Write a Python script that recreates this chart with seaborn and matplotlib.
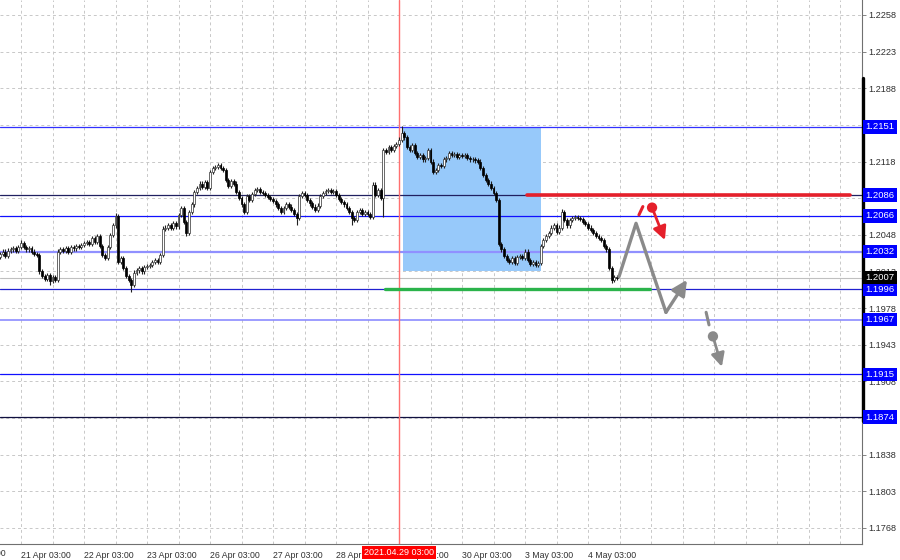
import numpy as np
import pandas as pd
import matplotlib
matplotlib.use("Agg")
import matplotlib.pyplot as plt
import matplotlib.transforms as mtransforms
from matplotlib.patches import Rectangle
import seaborn as sns

# EURUSD H1 closes, first bar 20 Apr 19:00
close = [
    1.2030, 1.2032, 1.2028, 1.2033, 1.2034, 1.2035, 1.2033, 1.2036,
    1.2040, 1.2036, 1.2034, 1.2035, 1.2032, 1.2030, 1.2029, 1.2013,
    1.2009, 1.2006, 1.2010, 1.2004, 1.2008, 1.2005, 1.2032, 1.2034,
    1.2033, 1.2035, 1.2032, 1.2036, 1.2035, 1.2037, 1.2036, 1.2038,
    1.2040, 1.2041, 1.2039, 1.2045, 1.2041, 1.2047, 1.2037, 1.2029,
    1.2026, 1.2036, 1.2048, 1.2057, 1.2066, 1.2022, 1.2026, 1.2016,
    1.2009, 1.2005, 1.2000, 1.2012, 1.2014, 1.2016, 1.2013, 1.2017,
    1.2018, 1.2019, 1.2022, 1.2024, 1.2022, 1.2029, 1.2054, 1.2055,
    1.2057, 1.2055, 1.2059, 1.2056, 1.2067, 1.2074, 1.2060, 1.2050,
    1.2070, 1.2077, 1.2089, 1.2093, 1.2097, 1.2094, 1.2098, 1.2093,
    1.2108, 1.2112, 1.2113, 1.2115, 1.2112, 1.2110, 1.2100, 1.2095,
    1.2099, 1.2097, 1.2089, 1.2083, 1.2077, 1.2070, 1.2085, 1.2081,
    1.2087, 1.2091, 1.2092, 1.2089, 1.2088, 1.2086, 1.2084, 1.2082,
    1.2080, 1.2077, 1.2074, 1.2070, 1.2074, 1.2077, 1.2075, 1.2072,
    1.2068, 1.2064, 1.2085, 1.2088, 1.2086, 1.2081, 1.2078, 1.2075,
    1.2072, 1.2076, 1.2085, 1.2088, 1.2090, 1.2091, 1.2089, 1.2090,
    1.2086, 1.2082, 1.2079, 1.2077, 1.2074, 1.2070, 1.2064, 1.2062,
    1.2070, 1.2072, 1.2068, 1.2070, 1.2068, 1.2065, 1.2096, 1.2086,
    1.2091, 1.2083, 1.2129, 1.2127, 1.2132, 1.2129, 1.2133, 1.2135,
    1.2139, 1.2145, 1.2141, 1.2132, 1.2129, 1.2134, 1.2126, 1.2122,
    1.2124, 1.2120, 1.2121, 1.2129, 1.2118, 1.2108, 1.2110, 1.2115,
    1.2114, 1.2120, 1.2121, 1.2126, 1.2124, 1.2125, 1.2122, 1.2124,
    1.2123, 1.2124, 1.2121, 1.2120, 1.2120, 1.2119, 1.2118, 1.2112,
    1.2105, 1.2100, 1.2097, 1.2093, 1.2088, 1.2081, 1.2039, 1.2034,
    1.2028, 1.2024, 1.2022, 1.2026, 1.2021, 1.2027, 1.2028, 1.2026,
    1.2032, 1.2024, 1.2020, 1.2022, 1.2019, 1.2021, 1.2037, 1.2043,
    1.2047, 1.2050, 1.2055, 1.2057, 1.2051, 1.2055, 1.2070, 1.2062,
    1.2057, 1.2062, 1.2064, 1.2065, 1.2064, 1.2063, 1.2060, 1.2058,
    1.2055, 1.2053, 1.2050, 1.2047, 1.2045, 1.2043, 1.2037, 1.2034,
    1.2016, 1.2005, 1.2008, 1.2007]
first_open = 1.2027

# long wicks
wick_hi = {8: 1.2043, 44: 1.2069, 153: 1.2152, 214: 1.2073}
wick_lo = {19: 1.2000, 50: 1.1993, 71: 1.2047, 113: 1.2057, 134: 1.2057,
           146: 1.2065, 233: 1.2002}

# levels drawn on the chart
levels = [1.2151, 1.2086, 1.2066, 1.2032, 1.1996, 1.1967, 1.1915, 1.1874]
level_colors = ["#3030ff", "#202060", "#1010ff", "#9090ff", "#2020d0", "#8c8cff", "#1010ff", "#101040"]
level_widths = [0.9, 0.9, 0.9, 1.6, 0.9, 1.2, 0.9, 0.9]
bid = 1.2007

grid_prices = [1.2258, 1.2223, 1.2188, 1.2153, 1.2118, 1.2083, 1.2048, 1.2013,
               1.1978, 1.1943, 1.1908, 1.1873, 1.1838, 1.1803, 1.1768]

# box (start/end bar, low/high price)
box_bars = [153.5, 206.1]
box_prices = [1.2013, 1.2151]
cross_bar = 152

# forecast drawing
red_line_bars = [200.8, 323.8]
red_line_price = 1.2086
green_line_bars = [146.7, 247.6]
green_line_price = 1.1996
path_bar = [235.8, 242.3, 253.7, 261.7]
path_price = [1.2008, 1.2059, 1.1974, 1.2005]
red_dash_bar = [243.4, 244.9]
red_dash_price = [1.2067, 1.2075]
red_arrow_bar = [248.4, 253.3]
red_arrow_price = [1.2074, 1.2043]
gray_dash_bar = [269.0, 270.1]
gray_dash_price = [1.1974, 1.1962]
gray_arrow_bar = [271.6, 275.0]
gray_arrow_price = [1.1951, 1.1922]

sns.set_style("white")
plt.rcParams["font.family"] = ["Liberation Sans", "DejaVu Sans"]

times = pd.date_range("2021-04-20 19:00", periods=500, freq="h")
times = times[times.dayofweek < 5][:330]

n = len(close)
x = np.arange(n)
c = np.array(close)
o = np.array([first_open] + close[:-1])
hi = np.maximum(o, c) + 0.0002
lo = np.minimum(o, c) - 0.0002
for k, v in wick_hi.items():
    hi[k] = v
for k, v in wick_lo.items():
    lo[k] = v

fig = plt.figure(figsize=(9, 5.6), dpi=100)
ax = fig.add_axes([0, 16 / 560, 862 / 900, 544 / 560])
ax.set_xlim(0, 862 / 2.625)
ax.set_ylim(1.17527, 1.22723)

# grid
for g in grid_prices:
    ax.axhline(g, color="#c8c8c8", lw=0.7, ls=(0, (3, 3)), zorder=0)
vgrid = np.where(np.isin(times.hour, [3, 15]))[0]
for g in vgrid:
    ax.axvline(g, color="#c8c8c8", lw=0.7, ls=(0, (3, 3)), zorder=0)

ax.add_patch(Rectangle((box_bars[0], box_prices[0]), box_bars[1] - box_bars[0],
                       box_prices[1] - box_prices[0], fc="#97c9fa", ec="none", zorder=1))

for lv, col, lw in zip(levels, level_colors, level_widths):
    ax.axhline(lv, color=col, lw=lw, zorder=2)
ax.axhline(bid, color="#c0c0c0", lw=0.8, zorder=1.5)
ax.axvline(cross_bar, color="#ff7070", lw=1, zorder=2)

# candles
ax.vlines(x, lo, hi, color="#202020", lw=0.8, zorder=3)
body = np.maximum(np.abs(c - o), 0.00005)
up = c >= o
ax.bar(x[up], body[up], bottom=o[up], width=0.72, facecolor="white",
       edgecolor="#303030", lw=0.5, zorder=4)
ax.bar(x[~up], body[~up], bottom=c[~up], width=0.72, facecolor="black",
       edgecolor="black", lw=0.5, zorder=4)

# forecast objects
ax.plot(red_line_bars, [red_line_price] * 2, color="#e5202b", lw=2.6, zorder=5)
ax.plot(green_line_bars, [green_line_price] * 2, color="#2bb34b", lw=2.4, zorder=5)
path = pd.DataFrame({"bar": path_bar, "price": path_price})
sns.lineplot(data=path.iloc[:3], x="bar", y="price", sort=False, color="#8a8a8a",
             lw=2.4, ax=ax, zorder=5)
ax.annotate("", xy=(path_bar[3], path_price[3]), xytext=(path_bar[2], path_price[2]),
            arrowprops=dict(arrowstyle="-|>,head_length=0.9,head_width=0.45",
                            color="#8a8a8a", lw=2.4, shrinkA=0, shrinkB=0), zorder=5)
sns.lineplot(x=red_dash_bar, y=red_dash_price, color="#e5202b", lw=2.2, ax=ax, zorder=5)
sns.lineplot(x=gray_dash_bar, y=gray_dash_price, color="#8a8a8a", lw=2.2, ax=ax, zorder=5)
sns.scatterplot(x=[red_arrow_bar[0], gray_arrow_bar[0]],
                y=[red_arrow_price[0], gray_arrow_price[0]],
                hue=["r", "g"], palette=["#e5202b", "#8a8a8a"], s=55,
                edgecolor="none", legend=False, ax=ax, zorder=6)
for bx, py, col in [(red_arrow_bar, red_arrow_price, "#e5202b"),
                    (gray_arrow_bar, gray_arrow_price, "#8a8a8a")]:
    ax.annotate("", xy=(bx[1], py[1]), xytext=(bx[0], py[0]),
                arrowprops=dict(arrowstyle="-|>,head_length=0.8,head_width=0.4",
                                color=col, lw=2.0, shrinkA=0, shrinkB=0), zorder=6)

# axes look
ax.set_xlabel("")
ax.set_ylabel("")
for s in ["top", "left"]:
    ax.spines[s].set_visible(False)
for s in ["right", "bottom"]:
    ax.spines[s].set_color("#707070")
    ax.spines[s].set_linewidth(0.8)
tr = mtransforms.blended_transform_factory(ax.transAxes, ax.transData)
ax.plot([1.001, 1.001], [1.2198, 1.1870], transform=tr, color="black", lw=2.4,
        clip_on=False, zorder=7)

ax.yaxis.tick_right()
ax.set_yticks(grid_prices)
ax.set_yticklabels([f"{g:.4f}" for g in grid_prices])
ax.tick_params(axis="y", length=3, width=0.6, color="#707070", pad=1.5,
               labelsize=6.6, labelcolor="#303030")

xt = np.where(times[:n].hour == 3)[0]
ax.set_xticks(xt)
ax.set_xticklabels([f"{t.day} {t:%b} 03:00" for t in times[xt]], ha="left")
ax.tick_params(axis="x", length=3, width=0.6, color="#707070", pad=2,
               labelsize=6.3, labelcolor="#303030")
ax.text(-16.8, -0.01, "20 Apr 03:00", transform=mtransforms.blended_transform_factory(
    ax.transData, ax.transAxes), ha="left", va="top", fontsize=6.3, color="#303030",
    clip_on=False)

for lv in levels:
    ax.text(1.004, lv, f"{lv:.4f}", transform=tr, ha="left", va="center", fontsize=6.8,
            color="white", bbox=dict(boxstyle="square,pad=0.22", fc="#0000ff", ec="none"),
            zorder=8, clip_on=False)
ax.text(1.004, bid, f"{bid:.4f}", transform=tr, ha="left", va="center", fontsize=6.8,
        color="white", bbox=dict(boxstyle="square,pad=0.22", fc="black", ec="none"),
        zorder=8, clip_on=False)
ax.text(cross_bar, -0.008, times[cross_bar].strftime("%Y.%m.%d %H:%M"),
        transform=mtransforms.blended_transform_factory(ax.transData, ax.transAxes),
        ha="center", va="top", fontsize=6.5, color="white",
        bbox=dict(boxstyle="square,pad=0.22", fc="#ff0000", ec="none"), zorder=8, clip_on=False)

fig.savefig("out.png", dpi=100)
